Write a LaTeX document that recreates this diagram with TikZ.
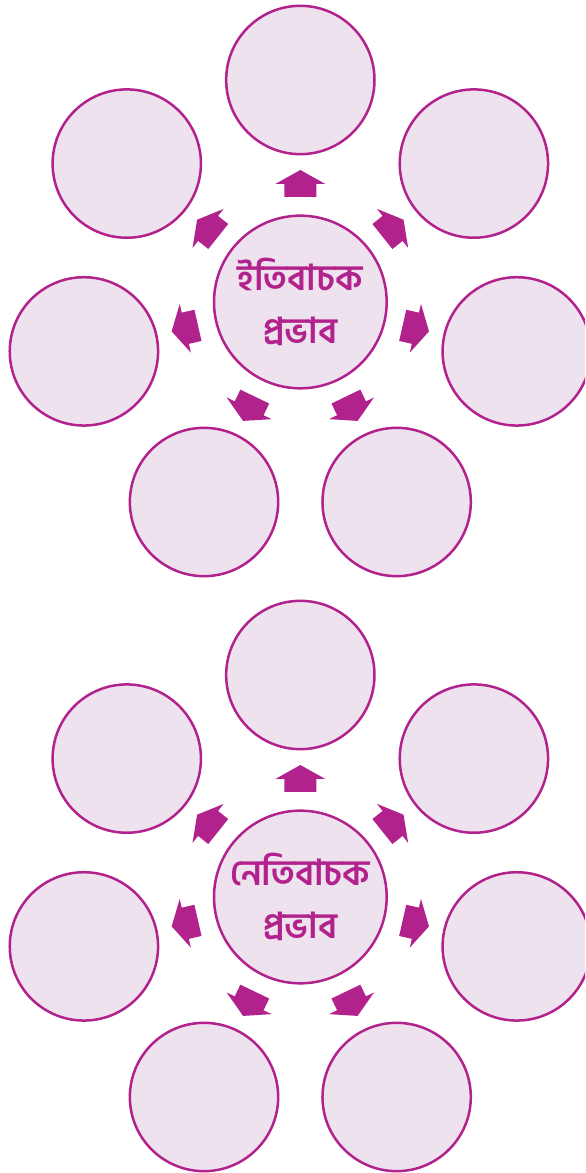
\documentclass[tikz,border=0pt]{standalone}
\usepackage{fontspec}
\newfontfamily\bnfont[Script=Bengali]{Hind Siliguri}
\usetikzlibrary{calc}
\definecolor{ringpink}{RGB}{178,34,140}
\definecolor{bubblefill}{RGB}{238,226,239}

\begin{document}
\begin{tikzpicture}[line join=round,
  bubble/.style={circle, draw=ringpink, fill=bubblefill, line width=0.075cm, minimum size=4.45cm, inner sep=0pt},
  hub/.style={circle, draw=ringpink, fill=bubblefill, line width=0.075cm, minimum size=5.18cm, inner sep=0pt,
    font=\bnfont\bfseries\fontsize{30.5}{45}\selectfont, text=ringpink, align=center},
  blockarrow/.style={fill=ringpink, draw=none}]

\useasboundingbox (0,0) rectangle (17.55,35.19);
\clip (0,0) rectangle (17.55,35.19);

\foreach \cy/\lbl/\nm in {26.13/ইতিবাচক/pos, 8.28/নেতিবাচক/neg} {
  \node[hub] (\nm) at (9.01,\cy) {\lbl\\প্রভাব};
  \foreach \k in {0,...,6} {
    \pgfmathsetmacro\ang{90+\k*360/7}
    \node[bubble] (\nm-\k) at ($(\nm)+(\ang:6.66)$) {};
    % house shaped arrow pointing to the bubble
    \fill[blockarrow, shift={($(\nm)+(\ang:3.54)$)}, rotate=\ang]
      (-0.39,-0.48) -- (0,-0.48) -- (0,-0.75) -- (0.42,0) -- (0,0.75) -- (0,0.48) -- (-0.39,0.48) -- cycle;
  }
}

\end{tikzpicture}
\end{document}
